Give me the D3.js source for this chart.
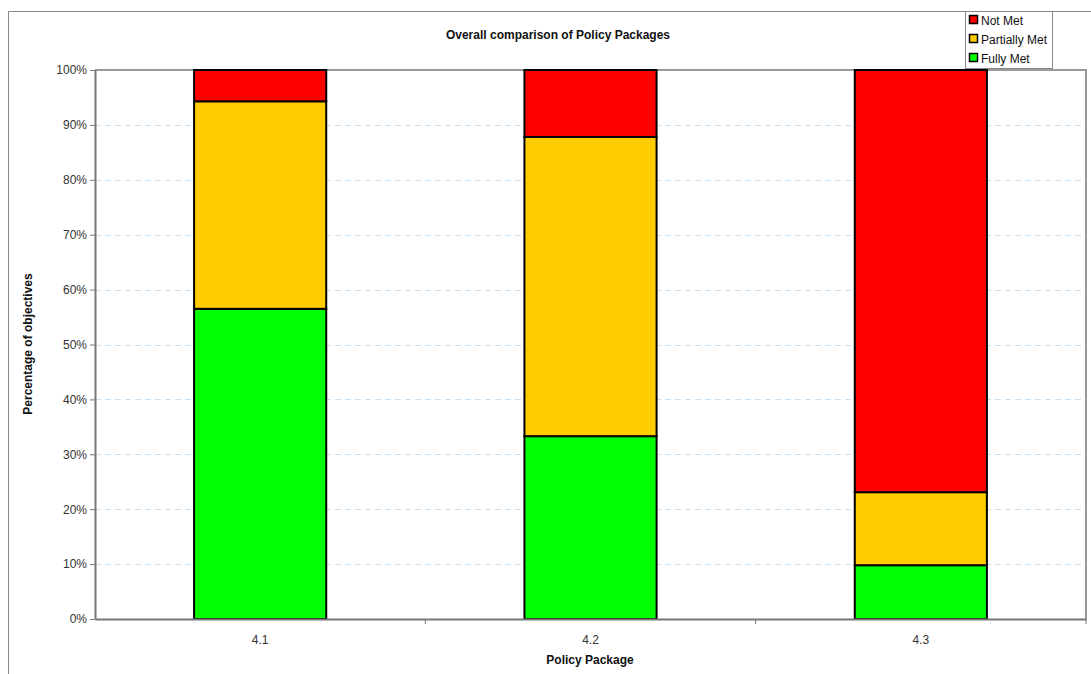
<!DOCTYPE html>
<html><head><meta charset="utf-8">
<script src="https://cdn.jsdelivr.net/npm/d3@7"></script>
<style>body{margin:0;background:#fff}svg{display:block;font-family:"Liberation Sans",Arial,sans-serif}</style>
</head><body><svg id="c" width="1091" height="674"></svg>
<script>
const categories = ["4.1", "4.2", "4.3"];
const seriesNames = ["Fully Met", "Partially Met", "Not Met"];
const fullyMet = [56.5, 33.3, 9.8];
const partiallyMet = [37.8, 54.5, 13.3];
const notMet = [5.7, 12.2, 76.9];
const seriesColors = ["#00ff00", "#ffcc00", "#ff0000"];
const yTicks = [0,10,20,30,40,50,60,70,80,90,100];

const svg = d3.select("#c");
const L = 95, R = 1086, T = 70, B = 619;
const x = d3.scaleBand().domain(categories).range([L, R]).paddingInner(0.6).paddingOuter(0.3);
const xb = d3.scaleBand().domain(categories).range([L, R]);
const y = d3.scaleLinear().domain([0, 100]).range([B, T]);

// outer frame
svg.append("path").attr("d", `M8.5,674 V11.5 H1091`).attr("fill","none").attr("stroke","#888").attr("stroke-width",1);

// gridlines
svg.append("g").selectAll("line").data(yTicks.filter(d=>d>0 && d<100)).join("line")
  .attr("x1", L).attr("x2", R).attr("y1", d=>Math.round(y(d))+0.5).attr("y2", d=>Math.round(y(d))+0.5)
  .attr("stroke","#c6e0f5").attr("stroke-dasharray","6,4").attr("stroke-width",1);

// plot frame top/right
svg.append("path").attr("d", `M${L},${T} H${R} V${B}`).attr("fill","none").attr("stroke","#999").attr("stroke-width",2);

// data
const rows = categories.map((c,i)=>({cat:c, "Fully Met":fullyMet[i], "Partially Met":partiallyMet[i], "Not Met":notMet[i]}));
const stacked = d3.stack().keys(seriesNames)(rows);
svg.append("g").selectAll("g").data(stacked).join("g")
  .attr("fill",(d,i)=>seriesColors[i])
  .selectAll("rect").data(d=>d).join("rect")
  .attr("x", d=>x(d.data.cat)).attr("width", x.bandwidth())
  .attr("y", d=>y(d[1])).attr("height", d=>y(d[0])-y(d[1]))
  .attr("stroke","#000").attr("stroke-width",2);

// y axis
const ya = svg.append("g").attr("transform",`translate(${L},0)`)
  .call(d3.axisLeft(y).tickValues(yTicks).tickFormat(d=>d+"%").tickSize(5).tickSizeOuter(0));
ya.select(".domain").attr("stroke","#777").attr("stroke-width",2);
ya.selectAll(".tick line").attr("stroke","#777");
ya.selectAll("text").attr("font-size",12).attr("fill","#333").attr("font-family","Liberation Sans, Arial, sans-serif");

// x axis
const xa = svg.append("g").attr("transform",`translate(0,${B})`)
  .call(d3.axisBottom(x).tickSize(0).tickPadding(16).tickSizeOuter(0));
xa.select(".domain").attr("stroke","#777").attr("stroke-width",2);
xa.selectAll("text").attr("font-size",12).attr("fill","#333").attr("font-family","Liberation Sans, Arial, sans-serif");
svg.append("g").selectAll("line").data(categories).join("line")
  .attr("x1",d=>xb(d)+xb.bandwidth()).attr("x2",d=>xb(d)+xb.bandwidth())
  .attr("y1",B).attr("y2",B+5).attr("stroke","#777");

// titles
svg.append("text").attr("x",558).attr("y",39).attr("text-anchor","middle").attr("font-size",12).attr("font-weight","bold").attr("fill","#111").text("Overall comparison of Policy Packages");
svg.append("text").attr("x",590).attr("y",664).attr("text-anchor","middle").attr("font-size",12).attr("font-weight","bold").attr("fill","#111").text("Policy Package");
svg.append("text").attr("transform","translate(32,344) rotate(-90)").attr("text-anchor","middle").attr("font-size",12).attr("font-weight","bold").attr("fill","#111").text("Percentage of objectives");

// legend
const lg = svg.append("g");
lg.append("rect").attr("x",965.5).attr("y",11.5).attr("width",87).attr("height",57).attr("fill","#fff").attr("stroke","#888");
const legendOrder = ["Not Met","Partially Met","Fully Met"];
legendOrder.forEach((n,i)=>{
  const yy = 20 + i*19;
  lg.append("rect").attr("x",969.5).attr("y",yy-4.5).attr("width",8).attr("height",8)
    .attr("fill",seriesColors[seriesNames.indexOf(n)]).attr("stroke","#000").attr("stroke-width",1.5);
  lg.append("text").attr("x",981).attr("y",yy+4.5).attr("font-size",12).attr("fill","#111").text(n);
});
</script></body></html>
